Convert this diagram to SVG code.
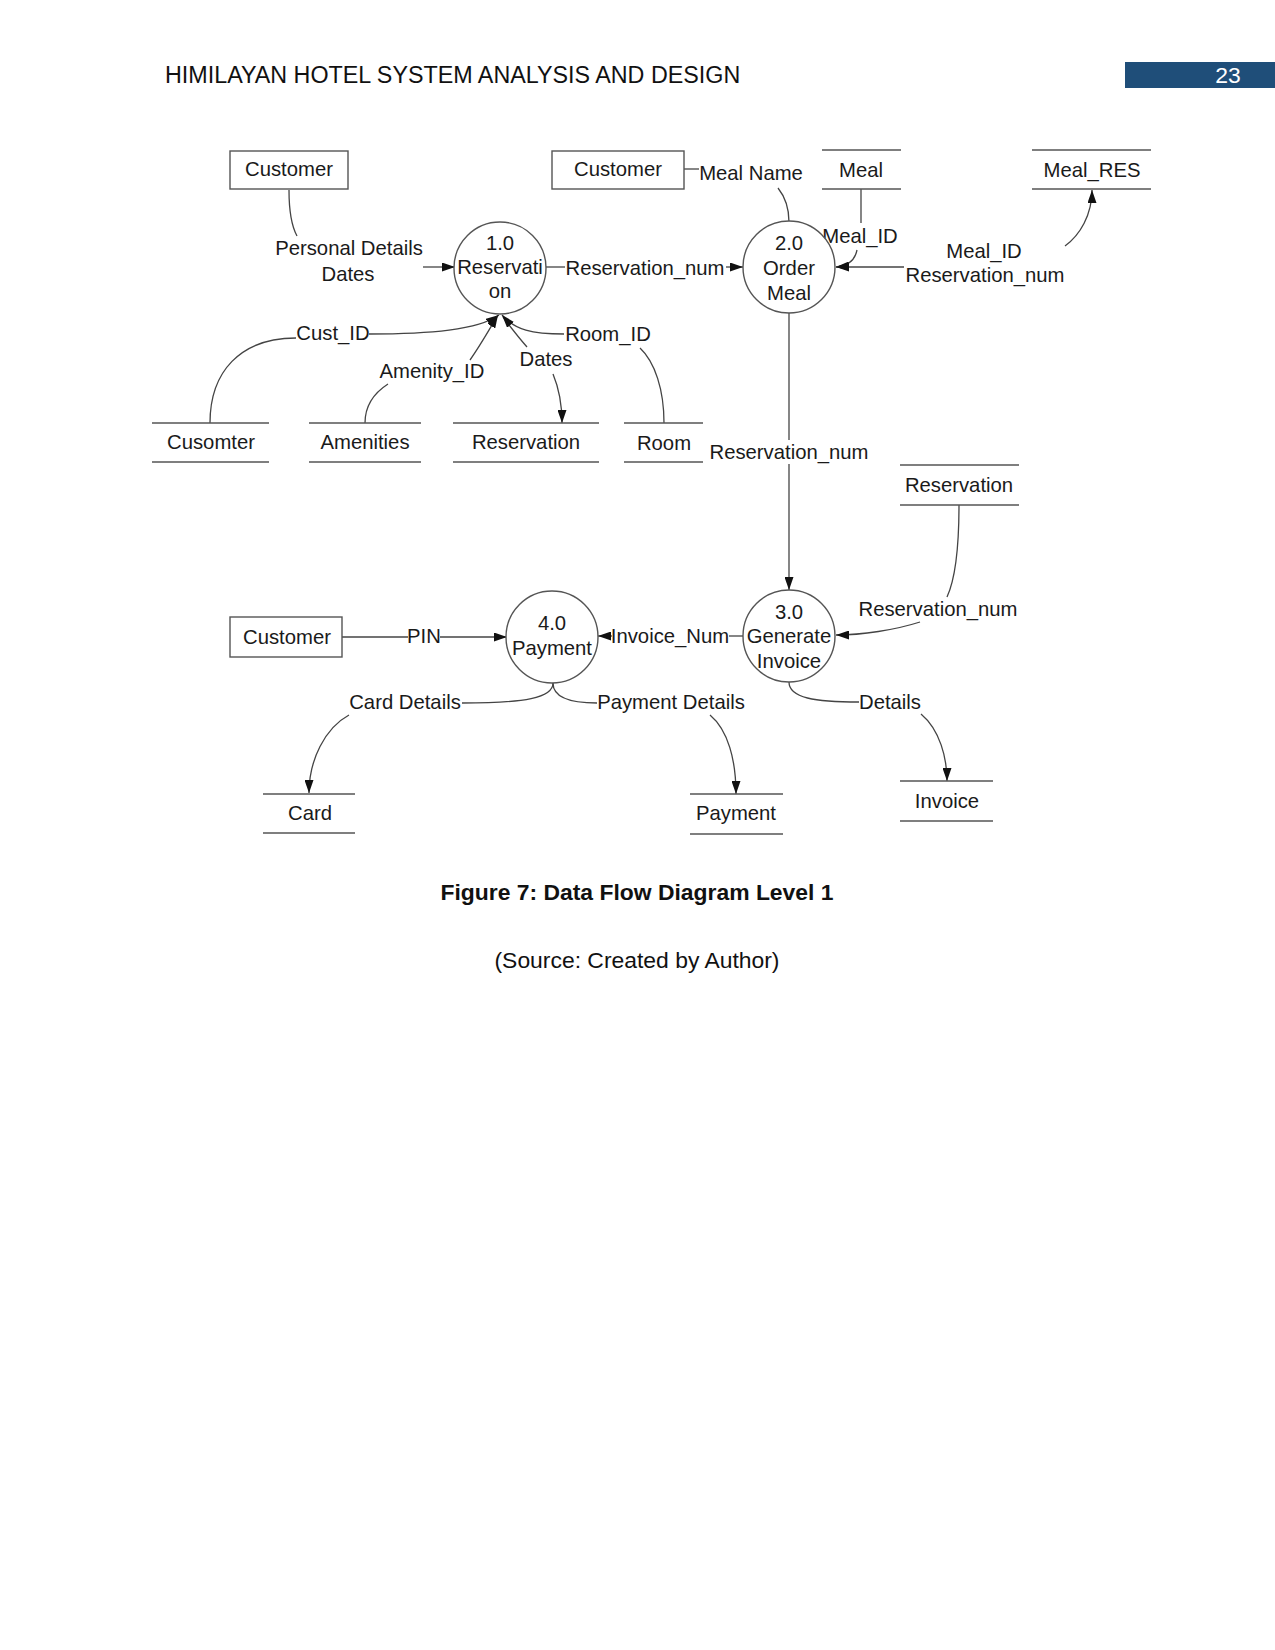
<svg xmlns="http://www.w3.org/2000/svg" width="1275" height="1650" viewBox="0 0 1275 1650">
<style>
.t{font-family:"Liberation Sans",Arial,sans-serif;font-size:20.3px;fill:#1a1a1a;text-anchor:middle}
.box{fill:#fff;stroke:#555;stroke-width:1.4}
.st{stroke:#555;stroke-width:1.4;fill:none}
.pc{fill:#fff;stroke:#555;stroke-width:1.4}
.c{fill:none;stroke:#444;stroke-width:1.3}
.a{fill:none;stroke:#444;stroke-width:1.3;marker-end:url(#ah)}
.hd{font-family:"Liberation Sans",Arial,sans-serif;font-size:22.9px;fill:#111}
</style>
<defs>
<marker id="ah" viewBox="0 0 13 9" refX="13" refY="4.5" markerWidth="13" markerHeight="9" markerUnits="userSpaceOnUse" orient="auto">
<path d="M0,0 L13,4.5 L0,9 z" fill="#111"/>
</marker>
</defs>
<rect width="1275" height="1650" fill="#fff"/>
<text class="hd" x="165" y="83" style="font-size:23.3px">HIMILAYAN HOTEL SYSTEM ANALYSIS AND DESIGN</text>
<rect x="1125" y="62" width="150" height="26" fill="#1f4e79"/>
<text class="hd" x="1228" y="83" text-anchor="middle" style="fill:#fff">23</text>

<g id="connectors">
<path class="c" d="M289,190 C289,210 291,225 297,236"/>
<path class="a" d="M423,267 L455,267"/>
<path class="c" d="M210,423 C210,372 240,338 296,338"/>
<path class="a" d="M369,334 C430,334 478,330 499,315"/>
<path class="c" d="M365,423 C365,405 374,393 388,384"/>
<path class="a" d="M470,360 C480,346 489,330 498,315"/>
<path class="c" d="M503,317 C512,329 520,339 527,347"/>
<path class="a" d="M553,374 C558,386 562,402 562,423"/>
<path class="c" d="M640,348 C655,362 664,390 664,423"/>
<path class="a" d="M564,334 C532,334 515,330 502,315"/>
<path class="c" d="M546,267 L565,267"/>
<path class="a" d="M726,267 L743,267"/>
<path class="c" d="M684,169 L699,169"/>
<path class="c" d="M778,188 C786,198 789,208 789,222"/>
<path class="c" d="M861,189 L861,223"/>
<path class="a" d="M857,250 C855,260 849,266 836,267"/>
<path class="a" d="M904,267 L836,267"/>
<path class="a" d="M1065,246 C1080,235 1092,215 1092,190"/>
<path class="c" d="M789,313 L789,440"/>
<path class="a" d="M789,464 L789,590"/>
<path class="c" d="M959,505 C959,560 953,584 947,597"/>
<path class="a" d="M920,622 C895,630 862,635 836,635"/>
<path class="c" d="M743,636 L729,636"/>
<path class="a" d="M612,636 L598,636"/>
<path class="c" d="M342,637 L408,637"/>
<path class="a" d="M440,637 L507,637"/>
<path class="c" d="M553,683 C553,698 525,703 462,703"/>
<path class="a" d="M349,715 C325,728 309,760 309,793"/>
<path class="c" d="M553,683 C553,698 572,703 597,703"/>
<path class="a" d="M710,715 C728,730 736,760 736,794"/>
<path class="c" d="M789,682 C789,698 815,702 859,702"/>
<path class="a" d="M921,714 C940,730 947,758 947,781"/>
</g>

<g id="labels">
<text class="t" x="349" y="255">Personal Details</text>
<text class="t" x="348" y="281">Dates</text>
<text class="t" x="333" y="340">Cust_ID</text>
<text class="t" x="432" y="378">Amenity_ID</text>
<text class="t" x="546" y="366">Dates</text>
<text class="t" x="608" y="341">Room_ID</text>
<text class="t" x="645" y="275">Reservation_num</text>
<text class="t" x="751" y="180">Meal Name</text>
<text class="t" x="860" y="243">Meal_ID</text>
<text class="t" x="984" y="258">Meal_ID</text>
<text class="t" x="985" y="282">Reservation_num</text>
<text class="t" x="789" y="459">Reservation_num</text>
<text class="t" x="938" y="616">Reservation_num</text>
<text class="t" x="670" y="643">Invoice_Num</text>
<text class="t" x="424" y="643">PIN</text>
<text class="t" x="405" y="709">Card Details</text>
<text class="t" x="671" y="709">Payment Details</text>
<text class="t" x="890" y="709">Details</text>
</g>

<g id="customer1"><rect class="box" x="230" y="151" width="118" height="38"/><text class="t" x="289" y="176">Customer</text></g>
<g id="customer2"><rect class="box" x="552" y="151" width="132" height="38"/><text class="t" x="618" y="176">Customer</text></g>
<g id="customer3"><rect class="box" x="230" y="617" width="112" height="40"/><text class="t" x="287" y="644">Customer</text></g>

<g id="p1"><circle class="pc" cx="500" cy="268" r="46"/><text class="t" x="500" y="250">1.0</text><text class="t" x="500" y="274">Reservati</text><text class="t" x="500" y="298">on</text></g>
<g id="p2"><circle class="pc" cx="789" cy="267" r="46"/><text class="t" x="789" y="250">2.0</text><text class="t" x="789" y="275">Order</text><text class="t" x="789" y="300">Meal</text></g>
<g id="p3"><circle class="pc" cx="789" cy="636" r="46"/><text class="t" x="789" y="619">3.0</text><text class="t" x="789" y="643">Generate</text><text class="t" x="789" y="668">Invoice</text></g>
<g id="p4"><circle class="pc" cx="552" cy="637" r="46"/><text class="t" x="552" y="630">4.0</text><text class="t" x="552" y="655">Payment</text></g>

<g id="ds-cusomter"><path class="st" d="M152,423 H269 M152,462 H269"/><text class="t" x="211" y="449">Cusomter</text></g>
<g id="ds-amenities"><path class="st" d="M309,423 H421 M309,462 H421"/><text class="t" x="365" y="449">Amenities</text></g>
<g id="ds-reservation1"><path class="st" d="M453,423 H599 M453,462 H599"/><text class="t" x="526" y="449">Reservation</text></g>
<g id="ds-room"><path class="st" d="M624,423 H703 M624,462 H703"/><text class="t" x="664" y="450">Room</text></g>
<g id="ds-meal"><path class="st" d="M822,150 H901 M822,189 H901"/><text class="t" x="861" y="177">Meal</text></g>
<g id="ds-mealres"><path class="st" d="M1032,150 H1151 M1032,189 H1151"/><text class="t" x="1092" y="177">Meal_RES</text></g>
<g id="ds-reservation2"><path class="st" d="M900,465 H1019 M900,505 H1019"/><text class="t" x="959" y="492">Reservation</text></g>
<g id="ds-card"><path class="st" d="M263,794 H355 M263,833 H355"/><text class="t" x="310" y="820">Card</text></g>
<g id="ds-payment"><path class="st" d="M690,794 H783 M690,834 H783"/><text class="t" x="736" y="820">Payment</text></g>
<g id="ds-invoice"><path class="st" d="M900,781 H993 M900,821 H993"/><text class="t" x="947" y="808">Invoice</text></g>

<text class="hd" x="637" y="900" text-anchor="middle" font-weight="bold">Figure 7: Data Flow Diagram Level 1</text>
<text class="hd" x="637" y="968" text-anchor="middle">(Source: Created by Author)</text>
</svg>
